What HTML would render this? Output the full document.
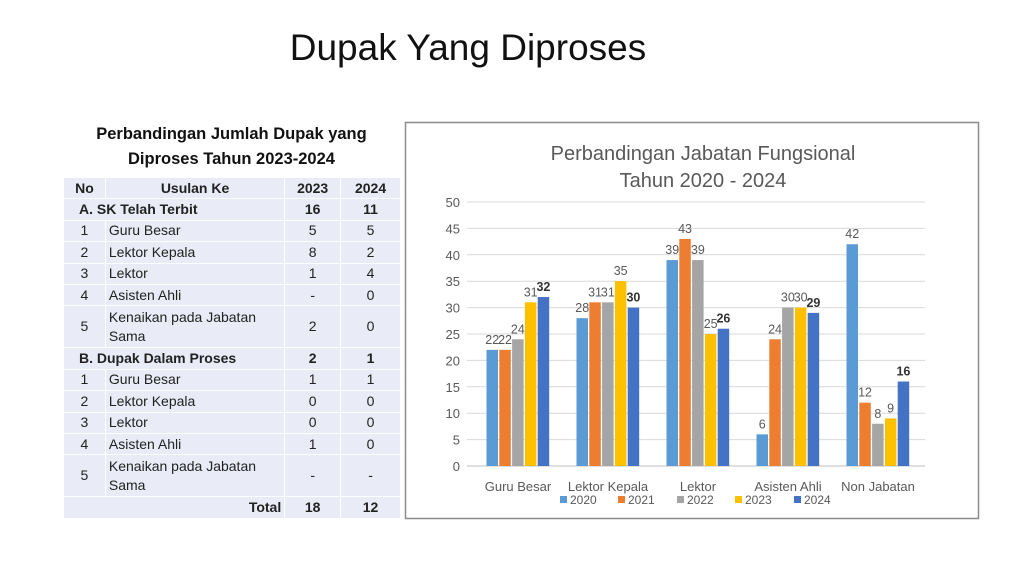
<!DOCTYPE html>
<html><head><meta charset="utf-8"><style>
body{margin:0;width:1024px;height:576px;background:#fff;font-family:"Liberation Sans",sans-serif;position:relative;overflow:hidden}
.t{position:absolute;left:0;width:936px;top:27px;text-align:center;font-size:37px;color:#111}
.tt{position:absolute;left:63px;width:337px;top:122px;text-align:center;font-size:16.5px;font-weight:bold;line-height:25px;color:#111}
table{position:absolute;left:63px;top:177px;width:338px;border-collapse:collapse;font-size:14px;color:#222}
td{background:#e9ecf6;border:1px solid #fff;height:20.4px;padding:0 3px;line-height:19px}
td.c{text-align:center}
tr.b td{font-weight:bold}
</style></head><body>
<div class="t">Dupak Yang Diproses</div>
<div class="tt">Perbandingan Jumlah Dupak yang<br>Diproses Tahun 2023-2024</div>
<table>
<colgroup><col style="width:42px"><col style="width:180px"><col style="width:56px"><col style="width:60px"></colgroup>
<tr class="b"><td class="c">No</td><td class="c">Usulan Ke</td><td class="c">2023</td><td class="c">2024</td></tr>
<tr class="b"><td colspan="2" style="padding-left:15px">A. SK Telah Terbit</td><td class="c">16</td><td class="c">11</td></tr>
<tr><td class="c">1</td><td>Guru Besar</td><td class="c">5</td><td class="c">5</td></tr>
<tr><td class="c">2</td><td>Lektor Kepala</td><td class="c">8</td><td class="c">2</td></tr>
<tr><td class="c">3</td><td>Lektor</td><td class="c">1</td><td class="c">4</td></tr>
<tr><td class="c">4</td><td>Asisten Ahli</td><td class="c">-</td><td class="c">0</td></tr>
<tr><td class="c" style="height:41px">5</td><td>Kenaikan pada Jabatan Sama</td><td class="c">2</td><td class="c">0</td></tr>
<tr class="b"><td colspan="2" style="padding-left:15px">B. Dupak Dalam Proses</td><td class="c">2</td><td class="c">1</td></tr>
<tr><td class="c">1</td><td>Guru Besar</td><td class="c">1</td><td class="c">1</td></tr>
<tr><td class="c">2</td><td>Lektor Kepala</td><td class="c">0</td><td class="c">0</td></tr>
<tr><td class="c">3</td><td>Lektor</td><td class="c">0</td><td class="c">0</td></tr>
<tr><td class="c">4</td><td>Asisten Ahli</td><td class="c">1</td><td class="c">0</td></tr>
<tr><td class="c" style="height:41px">5</td><td>Kenaikan pada Jabatan Sama</td><td class="c">-</td><td class="c">-</td></tr>
<tr class="b"><td colspan="2" style="text-align:right">Total</td><td class="c">18</td><td class="c">12</td></tr>
</table>
<svg style="position:absolute;left:0;top:0" width="1024" height="576" font-family="Liberation Sans, sans-serif">
<rect x="405.5" y="122.5" width="573" height="396" fill="#fff" stroke="#8c8c8c" stroke-width="1.5"/>
<text x="703" y="160" text-anchor="middle" font-size="20" fill="#595959">Perbandingan Jabatan Fungsional</text>
<text x="703" y="187" text-anchor="middle" font-size="20" fill="#595959">Tahun 2020 - 2024</text>
<g id="g"></g>
</svg>
<script>
var g=document.getElementById('g'),s='';
var y0=466,k=5.28,L=467,R=925;
for(var v=0;v<=50;v+=5){var y=y0-v*k;s+='<line x1="'+L+'" x2="'+R+'" y1="'+y+'" y2="'+y+'" stroke="'+(v?'#d9d9d9':'#bfbfbf')+'"/>';
s+='<text x="460" y="'+(y+5)+'" text-anchor="end" font-size="13" fill="#595959">'+v+'</text>';}
var cats=['Guru Besar','Lektor Kepala','Lektor','Asisten Ahli','Non Jabatan'];
var d=[[22,22,24,31,32],[28,31,31,35,30],[39,43,39,25,26],[6,24,30,30,29],[42,12,8,9,16]];
var col=['#5b9bd5','#ed7d31','#a5a5a5','#ffc000','#4472c4'];
for(var i=0;i<5;i++){var c=518+90*i;
s+='<text x="'+c+'" y="491" text-anchor="middle" font-size="13" fill="#595959">'+cats[i]+'</text>';
for(var j=0;j<5;j++){var x=c-31.5+j*12.8,h=d[i][j]*k;
s+='<rect x="'+x+'" y="'+(y0-h)+'" width="11.5" height="'+h+'" fill="'+col[j]+'"/>';
s+='<text x="'+(x+5.75)+'" y="'+(y0-h-6)+'" text-anchor="middle" font-size="12.5" fill="'+(j==4?'#333':'#595959')+'"'+(j==4?' font-weight="bold"':'')+'>'+d[i][j]+'</text>';}}
var lx=[560,618,677,735,794];
for(var j=0;j<5;j++){s+='<rect x="'+lx[j]+'" y="496" width="7" height="7" fill="'+col[j]+'"/><text x="'+(lx[j]+10)+'" y="504" font-size="12" fill="#595959">'+(2020+j)+'</text>';}
g.innerHTML=s;
</script>
</body></html>
